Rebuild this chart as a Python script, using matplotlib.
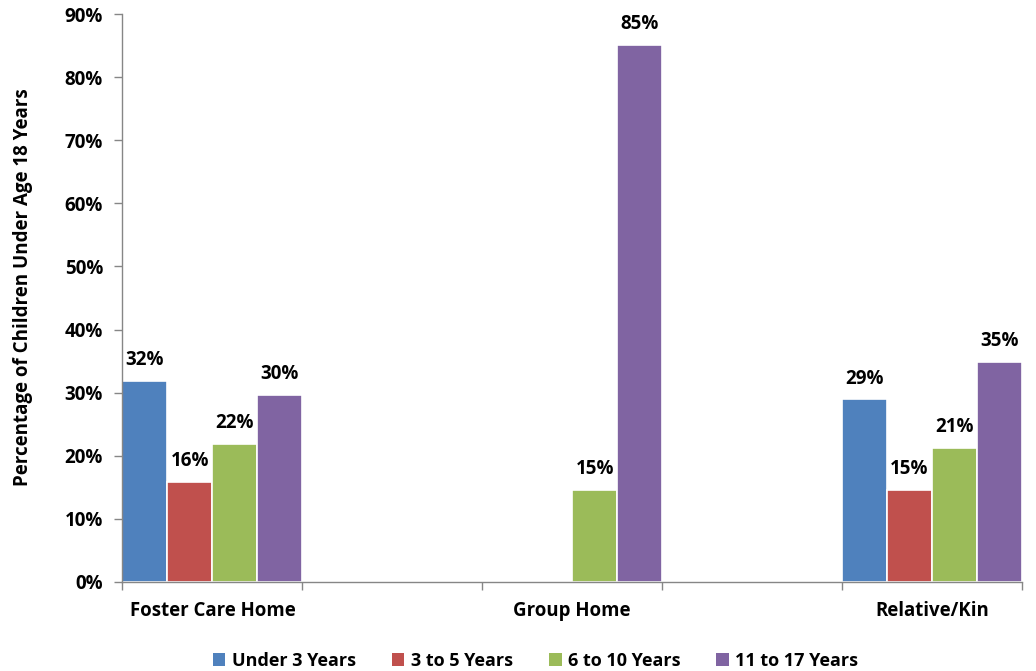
import numpy as np
import matplotlib
matplotlib.use('Agg')
import matplotlib.pyplot as plt
from matplotlib.patches import Patch

plt.rcParams['font.family'] = ['Open Sans', 'DejaVu Sans']
plt.rcParams['font.weight'] = 'bold'

categories = ['Foster Care Home', 'Group Home', 'Relative/Kin']
series = ['Under 3 Years', '3 to 5 Years', '6 to 10 Years', '11 to 17 Years']
under3 = [31.9, 0, 28.9]
age3to5 = [15.8, 0, 14.6]
age6to10 = [21.9, 14.6, 21.2]
age11to17 = [29.6, 85.2, 34.8]
colors = ['#4F81BD', '#C0504D', '#9BBB59', '#8064A2']

fig = plt.figure(figsize=(10.36, 6.71), dpi=100)
ax = fig.add_axes([0.1182, 0.1331, 0.8682, 0.8456])

# every category sits in its own slot with an empty slot between
pos = np.arange(len(categories)) * 2
w = 0.25
for i, (vals, c) in enumerate(zip([under3, age3to5, age6to10, age11to17], colors)):
    x = pos + (i - 1.5) * w
    ax.bar(x, vals, width=w, color=c, edgecolor='white', linewidth=1.2, zorder=2)
    for xi, v in zip(x, vals):
        if v > 0:
            ax.annotate('{:.0f}%'.format(v), (xi, v), xytext=(0, 15),
                        textcoords='offset points', ha='center', va='center',
                        fontsize=13.5, fontweight='bold')

ax.set_xlim(-0.5, 4.5)
ax.set_ylim(0, 90)
ax.set_yticks(np.arange(0, 91, 10))
ax.set_yticklabels(['{}%'.format(t) for t in range(0, 91, 10)])
ax.set_xticks(pos)
ax.set_xticklabels(categories)
ax.set_xticks(np.arange(-0.5, 4.6, 1), minor=True)
ax.tick_params(axis='x', which='major', length=0, pad=14, labelsize=13.4)
ax.tick_params(axis='x', which='minor', length=6, color='#868686', width=1)
ax.tick_params(axis='y', length=6, color='#868686', width=1, pad=8, labelsize=13.5)

for s in ['top', 'right']:
    ax.spines[s].set_visible(False)
for s in ['left', 'bottom']:
    ax.spines[s].set_color('#868686')
    ax.spines[s].set_linewidth(1)

ax.set_ylabel('Percentage of Children Under Age 18 Years', fontsize=13.5,
              fontweight='bold')
ax.yaxis.set_label_coords(-0.1, 0.52)

handles = [Patch(facecolor=c, edgecolor='none') for c in colors]
fig.legend(handles, series, loc='center', bbox_to_anchor=(0.517, 0.015),
           ncol=4, frameon=False, fontsize=13, handlelength=0.7,
           handleheight=0.7, handletextpad=0.35, columnspacing=2.0)

fig.savefig('out.png', dpi=100)
